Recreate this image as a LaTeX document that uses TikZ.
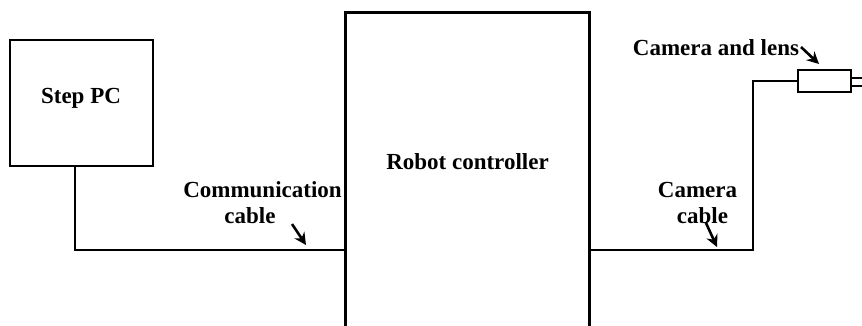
\documentclass[tikz,border=0pt]{standalone}
\usepackage{fontspec}
\setmainfont{Liberation Serif}
\usetikzlibrary{arrows.meta}
\begin{document}
\begin{tikzpicture}[x=1pt,y=-1pt,
  box/.style={draw=black,line width=2.8pt,rectangle,inner sep=0pt},
  cable/.style={draw=black,line width=2.8pt},
  lbl/.style={font=\fontsize{23}{26}\selectfont\bfseries,inner sep=0pt,anchor=base},
  pointer/.style={line width=2.6pt,-{Stealth[length=12pt,width=12pt]}}]
\useasboundingbox (0,0) rectangle (862,325);
% Step PC
\node[box,minimum width=143pt,minimum height=126pt] (pc) at (81.5,103) {};
\node[lbl] (pclbl) at (81,103) {Step PC};
% Robot controller (open at the bottom)
\node[inner sep=0pt,minimum width=243pt,minimum height=327pt] (ctrl) at (467.5,176.5) {};
\draw[line width=2.8pt] (ctrl.south west) -- (ctrl.north west) -- (ctrl.north east) -- (ctrl.south east);
\node[lbl] (ctrllbl) at (467.5,169) {Robot controller};
% Camera and lens
\node[box,minimum width=53pt,minimum height=22pt] (cam) at (824.5,81) {};
\coordinate (lensA) at (851,78);
\coordinate (lensB) at (851,86);
\draw[line width=2.4pt] (lensA) -- (862,78);
\draw[line width=2.4pt] (lensB) -- (862,86);
% Communication cable
\coordinate (p1) at (75,250);
\draw[cable] (pc.south -| p1) -- (p1) -- (p1 -| ctrl.west);
% Camera cable
\coordinate (q0) at (589,250);
\coordinate (q1) at (753,250);
\coordinate (q2) at (753,81);
\draw[cable] (q0) -- (q1) -- (q2) -- (cam.west);
% Labels
\node[lbl] (comm1) at (262.5,197) {Communication};
\node[lbl] (comm2) at (250,223) {cable};
\node[lbl] (cc1) at (697.5,197) {Camera};
\node[lbl] (cc2) at (702.5,223) {cable};
\node[lbl] (cl) at (716,55) {Camera and lens};
% Pointers
\coordinate (a1) at (292,224); \coordinate (a2) at (306,245);
\draw[pointer] (a1) -- (a2);
\coordinate (b1) at (706,223); \coordinate (b2) at (717,247);
\draw[pointer] (b1) -- (b2);
\coordinate (c1) at (801,47); \coordinate (c2) at (819,64);
\draw[pointer] (c1) -- (c2);
\end{tikzpicture}
\end{document}
